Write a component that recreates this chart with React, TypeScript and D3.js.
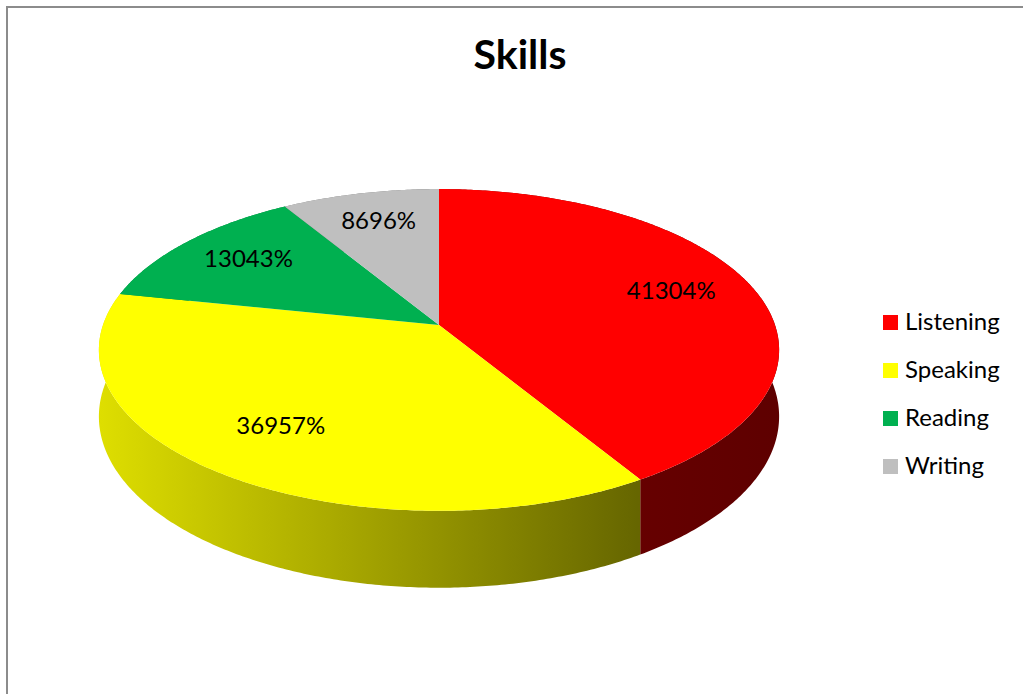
import * as d3 from 'd3';

const categories = ['Listening', 'Speaking', 'Reading', 'Writing'];
const values = [41.304, 36.957, 13.043, 8.696];
const valueLabels = ['41304%', '36957%', '13043%', '8696%'];
const colors = ['#ff0000', '#ffff00', '#00b050', '#bfbfbf'];

const W = 1023;
const H = 694;
// top face of the pie, with a little perspective
const CX = 439;
const CY = 325;
const RX = 336;
const RY = 157;
const K = -0.155;
const DEPTH = 65;
const FONT = 'Lato, "Open Sans", sans-serif';

function proj(r: number, a: number): [number, number, number] {
  const u = r * Math.sin(a);
  const v = -r * Math.cos(a);
  const w = 1 / (1 + K * v);
  return [CX + RX * u * w, CY + RY * v * w, w];
}

function arcPoints(a0: number, a1: number) {
  const n = Math.max(2, Math.ceil((a1 - a0) / 0.01));
  return d3.range(n + 1).map(i => proj(1, a0 + ((a1 - a0) * i) / n));
}

export default function App() {
  const pie = d3.pie<number>().sort(null).value(d => d);
  const arcs = pie(values);

  const line = d3.line<[number, number]>();

  const tops = arcs.map((a, i) => {
    const pts = arcPoints(a.startAngle, a.endAngle).map(p => [p[0], p[1]] as [number, number]);
    return { i, d: line([[CX, CY], ...pts])! + 'Z' };
  });

  const sides = arcs
    .map((a, i) => {
      const pts = arcPoints(a.startAngle, a.endAngle);
      const top = pts.map(p => [p[0], p[1]] as [number, number]);
      const bottom = pts.map(p => [p[0], p[1] + DEPTH * p[2]] as [number, number]).reverse();
      const mid = (a.startAngle + a.endAngle) / 2;
      return { i, depth: -Math.cos(mid), d: line([...top, ...bottom])! + 'Z' };
    })
    .sort((a, b) => a.depth - b.depth);

  const shade = (c: string, f: number) => {
    const col = d3.rgb(c);
    return d3.rgb(col.r * f, col.g * f, col.b * f).formatHex();
  };

  const labels = arcs.map((a, i) => {
    const [x, y] = proj(0.74, (a.startAngle + a.endAngle) / 2);
    return { x, y: y - 4, text: valueLabels[i] };
  });

  const legendY = d3.scalePoint<string>().domain(categories).range([322, 466]);

  return (
    <svg width={W} height={H} style={{ position: 'absolute', left: 0, top: 0, background: '#fff' }}>
      <defs>
        {colors.map((c, i) => (
          <linearGradient key={i} id={`side${i}`} gradientUnits="userSpaceOnUse" x1={100} x2={780} y1={0} y2={0}>
            <stop offset="0" stopColor={shade(c, 0.87)} />
            <stop offset="0.79" stopColor={shade(c, 0.4)} />
            <stop offset="1" stopColor={shade(c, 0.37)} />
          </linearGradient>
        ))}
      </defs>
      <rect x={7} y={7} width={W + 20} height={H + 20} fill="#fff" stroke="#8c8c8c" strokeWidth={2} />
      <text x={520} y={69} textAnchor="middle" fontFamily={FONT} fontWeight="bold" fontSize={41} fill="#000">
        Skills
      </text>
      {sides.map(s => (
        <path key={'s' + s.i} d={s.d} fill={`url(#side${s.i})`} />
      ))}
      {tops.map(t => (
        <path key={'t' + t.i} d={t.d} fill={colors[t.i]} />
      ))}
      {labels.map((l, i) => (
        <text key={'l' + i} x={l.x} y={l.y} dy="0.35em" textAnchor="middle" fontFamily={FONT} fontSize={24} fill="#000">
          {l.text}
        </text>
      ))}
      {categories.map((c, i) => (
        <g key={c} transform={`translate(883,${legendY(c)})`}>
          <rect x={0} y={-7} width={15} height={15} fill={colors[i]} />
          <text x={22} y={0} dy="0.35em" fontFamily={FONT} fontSize={24} fill="#000">
            {c}
          </text>
        </g>
      ))}
    </svg>
  );
}
